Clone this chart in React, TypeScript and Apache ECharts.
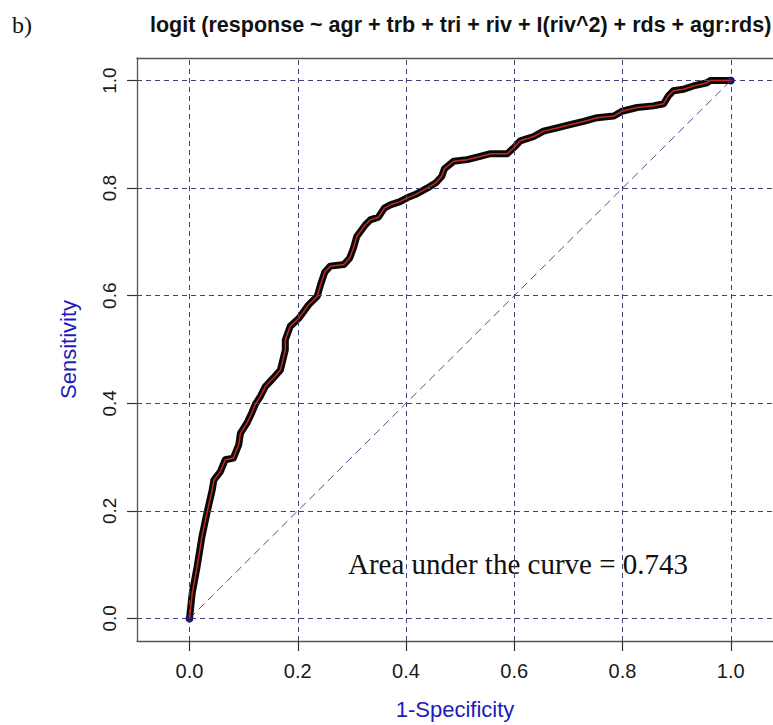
import { useEffect, useRef } from "react";
import * as echarts from "echarts";

// ROC curve points (1-Specificity, Sensitivity)
const fpr = [
  0, 0.005, 0.014, 0.023, 0.032, 0.042, 0.045, 0.057, 0.066, 0.081, 0.091, 0.094,
  0.106, 0.115, 0.122, 0.131, 0.14, 0.155, 0.168, 0.177, 0.177, 0.186, 0.202, 0.22,
  0.236, 0.242, 0.25, 0.26, 0.285, 0.296, 0.303, 0.309, 0.325, 0.334, 0.349, 0.36,
  0.371, 0.389, 0.402, 0.417, 0.439, 0.455, 0.466, 0.471, 0.488, 0.513, 0.537, 0.556,
  0.587, 0.602, 0.611, 0.636, 0.654, 0.679, 0.703, 0.728, 0.753, 0.784, 0.799, 0.827,
  0.857, 0.876, 0.885, 0.894, 0.913, 0.931, 0.956, 0.962, 1.0,
];
const tpr = [
  0, 0.047, 0.096, 0.152, 0.195, 0.239, 0.257, 0.273, 0.295, 0.298, 0.323, 0.344,
  0.363, 0.382, 0.399, 0.413, 0.431, 0.447, 0.462, 0.499, 0.518, 0.543, 0.558, 0.583,
  0.599, 0.62, 0.644, 0.655, 0.658, 0.67, 0.689, 0.71, 0.732, 0.741, 0.746, 0.763,
  0.769, 0.775, 0.782, 0.788, 0.8, 0.81, 0.822, 0.836, 0.85, 0.853, 0.859, 0.864,
  0.864, 0.878, 0.888, 0.896, 0.906, 0.912, 0.918, 0.924, 0.931, 0.934, 0.943, 0.95,
  0.953, 0.957, 0.972, 0.981, 0.984, 0.99, 0.996, 1.0, 1.0,
];
const endPointsX = [0, 1];
const endPointsY = [0, 1];
const xTickValues = [0, 0.2, 0.4, 0.6, 0.8, 1.0];
const yTickValues = [0, 0.2, 0.4, 0.6, 0.8, 1.0];

const titleText = "logit (response ~ agr + trb + tri + riv + I(riv^2) + rds + agr:rds)";
const panelLabel = "b)";
const aucText = "Area under the curve = 0.743";
const xName = "1-Specificity";
const yName = "Sensitivity";

export default function App() {
  const ref = useRef<HTMLDivElement>(null);
  useEffect(() => {
    const chart = echarts.init(ref.current!, null, { renderer: "svg" });
    const roc = fpr.map((x, i) => [x, tpr[i]]);
    const diag = endPointsX.map((x, i) => [x, endPointsY[i]]);
    const gridLine = { color: "#45457a", width: 1, type: [5, 4] as any };
    const sans = "'Liberation Sans', Arial, sans-serif";
    const serif = "'Liberation Serif', 'Times New Roman', serif";
    const xMin = -0.097, xMax = 1.078, yMin = -0.042, yMax = 1.042;

    chart.setOption({
      animation: false,
      backgroundColor: "#ffffff",
      title: {
        text: titleText,
        left: 150,
        top: 14,
        padding: 0,
        textStyle: {
          fontFamily: sans,
          fontWeight: "bold",
          fontSize: 21.5,
          color: "#111",
        },
      },
      graphic: [
        {
          type: "text",
          left: 12,
          top: 13,
          style: { text: panelLabel, font: `24px ${serif}`, fill: "#111" },
        },
        {
          type: "text",
          left: 348,
          top: 549,
          style: { text: aucText, font: `29px ${serif}`, fill: "#111" },
        },
      ],
      grid: { left: 137, right: 0, top: 58, bottom: 84 },
      xAxis: [
        {
          type: "value",
          min: xMin,
          max: xMax,
          name: xName,
          nameLocation: "middle",
          nameGap: 57,
          nameTextStyle: { fontFamily: sans, fontSize: 22, color: "#1c1cb8" },
          axisLine: { show: true, onZero: false, lineStyle: { color: "#555", width: 1.3 } },
          axisTick: {
            show: true,
            length: 10,
            customValues: xTickValues,
            lineStyle: { color: "#333", width: 1.2 },
          },
          axisLabel: {
            customValues: xTickValues,
            margin: 20,
            fontFamily: sans,
            fontSize: 20,
            color: "#1a1a1a",
            formatter: (v: number) => v.toFixed(1),
          },
          splitLine: { show: false },
        },
        {
          type: "value",
          position: "top",
          min: xMin,
          max: xMax,
          axisLine: { show: true, onZero: false, lineStyle: { color: "#555", width: 1.3 } },
          axisTick: { show: false },
          axisLabel: { show: false },
          splitLine: { show: false },
        },
      ],
      yAxis: {
        type: "value",
        min: yMin,
        max: yMax,
        name: yName,
        nameLocation: "middle",
        nameGap: 58,
        nameTextStyle: { fontFamily: sans, fontSize: 22, color: "#1c1cb8" },
        axisLine: { show: true, onZero: false, lineStyle: { color: "#555", width: 1.3 } },
        axisTick: {
          show: true,
          length: 10,
          customValues: yTickValues,
          lineStyle: { color: "#333", width: 1.2 },
        },
        axisLabel: {
          customValues: yTickValues,
          rotate: 90,
          margin: 18,
          fontFamily: sans,
          fontSize: 19,
          color: "#1a1a1a",
          formatter: (v: number) => v.toFixed(1),
        },
        splitLine: { show: false },
      },
      series: [
        {
          type: "line",
          data: diag,
          symbol: "none",
          silent: true,
          z: 2,
          lineStyle: { color: "#50508a", width: 1, type: [8, 5] },
          markLine: {
            silent: true,
            symbol: "none",
            label: { show: false },
            lineStyle: gridLine,
            data: [
              ...xTickValues.map((v) => ({ xAxis: v })),
              ...yTickValues.map((v) => ({ yAxis: v })),
            ],
          },
        },
        {
          type: "line",
          data: roc,
          symbol: "none",
          silent: true,
          z: 4,
          lineStyle: { color: "#080808", width: 7, cap: "round", join: "round" },
        },
        {
          type: "scatter",
          data: diag,
          symbolSize: 8,
          silent: true,
          z: 5,
          itemStyle: { color: "#1a1a7a" },
        },
        {
          type: "line",
          data: roc,
          symbol: "none",
          silent: true,
          z: 6,
          lineStyle: { color: "#c42a22", width: 1.5, join: "round" },
        },
      ],
    });
    return () => chart.dispose();
  }, []);
  return (
    <div
      ref={ref}
      style={{ position: "fixed", left: 0, top: 0, width: 773, height: 725 }}
    />
  );
}
